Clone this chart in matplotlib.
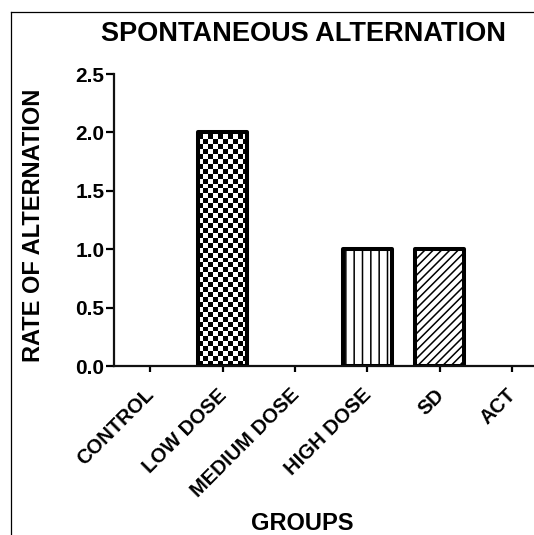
import numpy as np
import matplotlib
matplotlib.use('Agg')
import matplotlib.pyplot as plt
from matplotlib.lines import Line2D
from matplotlib.transforms import ScaledTranslation

# ---- data ----
groups = ['CONTROL', 'LOW DOSE', 'MEDIUM DOSE', 'HIGH DOSE', 'SD', 'ACT']
rates = [0.0, 2.0, 0.0, 1.0, 1.0, 0.0]
y_ticks = [0.0, 0.5, 1.0, 1.5, 2.0, 2.5]
y_tick_labels = ['0.0', '0.5', '1.0', '1.5', '2.0', '2.5']

# ---- styles ----
fills = ['none', 'checker', 'none', 'vertical', 'diagonal', 'none']
hatch_map = {'none': '', 'checker': '', 'vertical': '||', 'diagonal': '////'}

plt.rcParams['font.family'] = ['Liberation Sans', 'DejaVu Sans']
plt.rcParams['font.weight'] = 'bold'
plt.rcParams['hatch.linewidth'] = 1.1

W, H = 534, 535
fig = plt.figure(figsize=(W / 100, H / 100), dpi=100)
fig.patch.set_facecolor('white')
ax = fig.add_axes([114 / W, 1 - 366 / H, 434.4 / W, 292 / H])
ax.set_xlim(-0.5, 5.5)
ax.set_ylim(0, 2.5)

x = np.arange(len(groups))
bar_w = 0.68
px_x = ax.transData.transform((1, 0))[0] - ax.transData.transform((0, 0))[0]
px_y = ax.transData.transform((0, 1))[1] - ax.transData.transform((0, 0))[1]

for xi, val, fill in zip(x, rates, fills):
    if val <= 0:
        continue
    bc = ax.bar(xi, val, width=bar_w, facecolor='none', edgecolor='black',
                linewidth=2.9, hatch=hatch_map[fill], zorder=3, joinstyle='round')
    rect = bc.patches[0]
    if fill == 'checker':
        x0, w, h = rect.get_x(), rect.get_width(), rect.get_height()
        nx = 10
        sq_px = w * px_x / nx
        sq_y = sq_px / px_y
        ny = int(np.ceil(h / sq_y))
        board = np.indices((ny, nx)).sum(axis=0) % 2
        im = ax.imshow(board, cmap='gray', interpolation='nearest', aspect='auto',
                       extent=(x0, x0 + w, 0, ny * sq_y), origin='lower', zorder=2)
        im.set_clip_path(rect)

ax.set_xlim(-0.5, 5.5)
ax.set_ylim(0, 2.5)

for s in ['top', 'right']:
    ax.spines[s].set_visible(False)
for s in ['left', 'bottom']:
    ax.spines[s].set_linewidth(1.6)
    ax.spines[s].set_color('#111111')
    ax.spines[s].set_zorder(4)

ax.set_yticks(y_ticks)
ax.set_yticklabels(y_tick_labels)
ax.set_xticks(x)
ax.set_xticklabels(groups, rotation=45, ha='right', va='baseline', rotation_mode='anchor')
ax.tick_params(axis='y', direction='out', length=6, width=1.6, pad=1, labelsize=15)
ax.tick_params(axis='x', direction='out', length=4.5, width=1.6, pad=17, labelsize=14.5)
off = ScaledTranslation(5 / 100, 0, fig.dpi_scale_trans)
for lab in ax.get_xticklabels():
    lab.set_transform(lab.get_transform() + off)
    lab.set_fontweight('bold')
for lab in ax.get_yticklabels():
    lab.set_fontweight('bold')

fig.text(303 / W, 1 - 41 / H, 'SPONTANEOUS ALTERNATION', ha='center', va='baseline',
         fontsize=19.5, fontweight='bold')
fig.text(40 / W, 1 - 225 / H, 'RATE OF ALTERNATION', rotation=90, rotation_mode='anchor',
         ha='center', va='baseline', fontsize=17, fontweight='bold')
fig.text(302 / W, 1 - 530 / H, 'GROUPS', ha='center', va='baseline',
         fontsize=17, fontweight='bold')

# frame lines of the original figure border
fig.add_artist(Line2D([11 / W, 1.0], [1 - 12 / H, 1 - 12 / H], transform=fig.transFigure,
                      color='black', linewidth=0.9))
fig.add_artist(Line2D([11 / W, 11 / W], [1 - 12 / H, 0.0], transform=fig.transFigure,
                      color='black', linewidth=0.9))

fig.savefig('out.png', dpi=100)
